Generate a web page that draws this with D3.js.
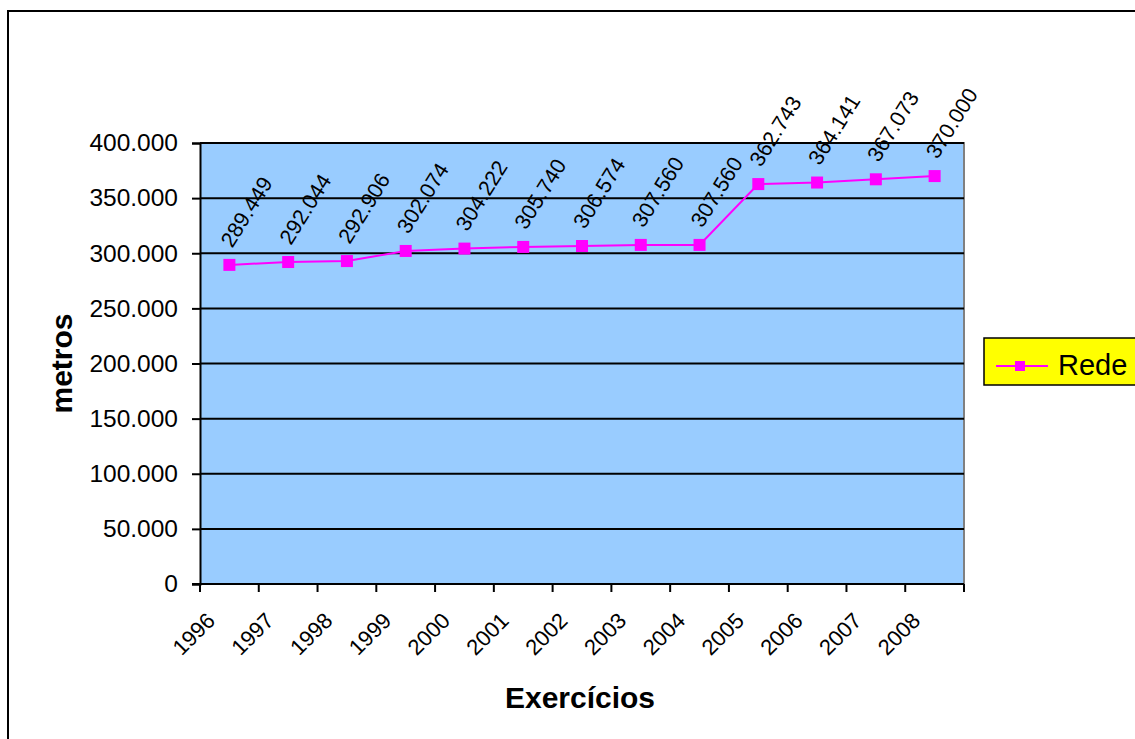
<!DOCTYPE html>
<html>
<head>
<meta charset="utf-8">
<script src="https://cdn.jsdelivr.net/npm/d3@7"></script>
<style>
  html, body { margin: 0; padding: 0; background: #fff; }
  svg { display: block; font-family: "Liberation Sans", Arial, sans-serif; }
</style>
</head>
<body>
<svg id="chart" width="1135" height="739"></svg>
<script>
// Extensão da rede (metros) por exercício
const years = ["1996","1997","1998","1999","2000","2001","2002","2003","2004","2005","2006","2007","2008"];
const rede = [289449, 292044, 292906, 302074, 304222, 305740, 306574, 307560, 307560, 362743, 364141, 367073, 370000];
const yTicks = [0, 50000, 100000, 150000, 200000, 250000, 300000, 350000, 400000];
const seriesName = "Rede";
const xTitle = "Exercícios";
const yTitle = "metros";

const ptBR = d3.formatLocale({ decimal: ",", thousands: ".", grouping: [3], currency: ["R$", ""] });
const fmt = ptBR.format(",d");

const svg = d3.select("#chart");
const plot = { left: 200, top: 143, right: 964, bottom: 584 };

// Chart area frame (extends past the visible window on right/bottom)
svg.append("rect")
  .attr("x", 8).attr("y", 11).attr("width", 1300).attr("height", 900)
  .attr("fill", "#fff").attr("stroke", "#000").attr("stroke-width", 2);

const x = d3.scaleBand().domain(years).range([plot.left, plot.right]).paddingInner(0).paddingOuter(0);
const y = d3.scaleLinear().domain([0, 400000]).range([plot.bottom, plot.top]);

// Plot area background
svg.append("rect")
  .attr("x", plot.left).attr("y", plot.top)
  .attr("width", plot.right - plot.left).attr("height", plot.bottom - plot.top)
  .attr("fill", "#99CCFF");

// Gray border on top and right of plot area
svg.append("path")
  .attr("d", `M${plot.left},${plot.top}H${plot.right}V${plot.bottom}`)
  .attr("fill", "none").attr("stroke", "#808080").attr("stroke-width", 2);

// Horizontal gridlines
svg.append("g").selectAll("line")
  .data(yTicks.filter(d => d > 0))
  .join("line")
  .attr("x1", plot.left).attr("x2", plot.right)
  .attr("y1", d => y(d)).attr("y2", d => y(d))
  .attr("stroke", "#000").attr("stroke-width", 2);

// Y axis
const yAxis = svg.append("g")
  .attr("transform", `translate(${plot.left},0)`)
  .call(d3.axisLeft(y).tickValues(yTicks).tickFormat(fmt).tickSize(8).tickPadding(14));
yAxis.select(".domain").attr("stroke", "#000").attr("stroke-width", 2);
yAxis.selectAll(".tick line").attr("stroke", "#000").attr("stroke-width", 2);
yAxis.selectAll(".tick text")
  .attr("font-size", 24.5).attr("fill", "#000")
  .attr("font-family", "Liberation Sans, Arial, sans-serif");

// X axis: ticks between categories
const xAxisG = svg.append("g").attr("transform", `translate(0,${plot.bottom})`);
xAxisG.append("line")
  .attr("x1", plot.left - 8).attr("x2", plot.right)
  .attr("y1", 0).attr("y2", 0)
  .attr("stroke", "#000").attr("stroke-width", 2);
const boundaries = years.map(d => x(d)).concat([x(years[years.length - 1]) + x.bandwidth()]);
xAxisG.selectAll("line.tick")
  .data(boundaries)
  .join("line").attr("class", "tick")
  .attr("x1", d => d).attr("x2", d => d)
  .attr("y1", 0).attr("y2", 8)
  .attr("stroke", "#000").attr("stroke-width", 2);
xAxisG.selectAll("text.ylab")
  .data(years)
  .join("text").attr("class", "ylab")
  .attr("transform", d => `translate(${x(d) + x.bandwidth() / 2 - 13},${38}) rotate(-45)`)
  .attr("text-anchor", "end")
  .attr("font-size", 22)
  .attr("fill", "#000")
  .text(d => d);

// Series line
const cx = d => x(d) + x.bandwidth() / 2;
const line = d3.line().x((d, i) => cx(years[i])).y(d => y(d));
svg.append("path")
  .datum(rede)
  .attr("d", line)
  .attr("fill", "none").attr("stroke", "#FF00FF").attr("stroke-width", 2);

// Markers
const ms = 12;
svg.append("g").selectAll("rect")
  .data(rede)
  .join("rect")
  .attr("x", (d, i) => cx(years[i]) - ms / 2)
  .attr("y", d => y(d) - ms / 2)
  .attr("width", ms).attr("height", ms)
  .attr("fill", "#FF00FF");

// Data labels
svg.append("g").selectAll("text")
  .data(rede)
  .join("text")
  .attr("transform", (d, i) => `translate(${cx(years[i]) + 17},${y(d) - 53}) rotate(-58)`)
  .attr("text-anchor", "middle")
  .attr("dy", "0.35em")
  .attr("font-size", 21.5)
  .attr("fill", "#000")
  .text(d => fmt(d));

// Axis titles
svg.append("text")
  .attr("x", (plot.left + plot.right) / 2 - 2).attr("y", 708)
  .attr("text-anchor", "middle")
  .attr("font-size", 30).attr("font-weight", "bold")
  .text(xTitle);
svg.append("text")
  .attr("transform", `translate(72,${(plot.top + plot.bottom) / 2}) rotate(-90)`)
  .attr("text-anchor", "middle")
  .attr("font-size", 30).attr("font-weight", "bold")
  .text(yTitle);

// Legend
const lg = svg.append("g").attr("transform", "translate(984,338)");
lg.append("rect")
  .attr("width", 170).attr("height", 47)
  .attr("fill", "#FFFF00").attr("stroke", "#000").attr("stroke-width", 1.5);
lg.append("line")
  .attr("x1", 12).attr("x2", 64).attr("y1", 28).attr("y2", 28)
  .attr("stroke", "#FF00FF").attr("stroke-width", 2);
lg.append("rect")
  .attr("x", 31).attr("y", 23).attr("width", 10).attr("height", 10)
  .attr("fill", "#FF00FF");
lg.append("text")
  .attr("x", 74).attr("y", 37)
  .attr("font-size", 29).attr("fill", "#000")
  .text(seriesName);
</script>
</body>
</html>
